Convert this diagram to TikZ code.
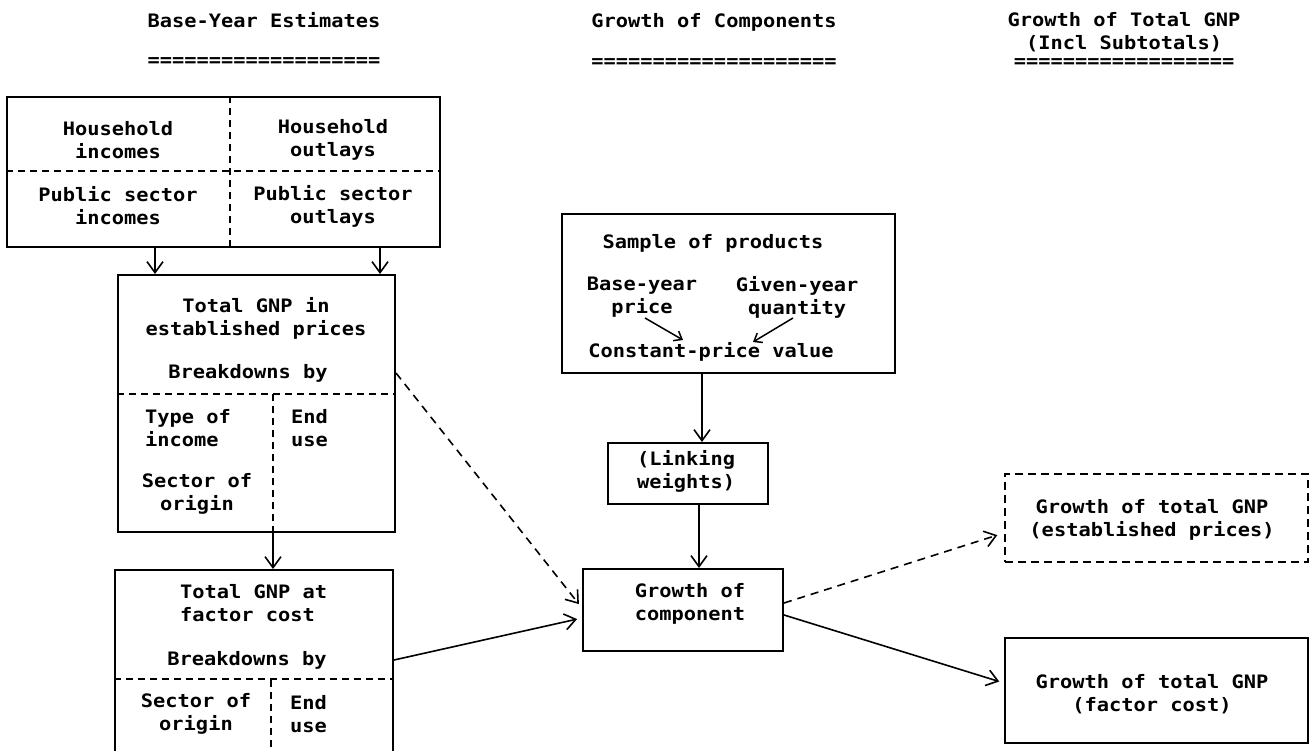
\documentclass[tikz,border=0pt]{standalone}
\usepackage{fontspec}
\setmonofont[FakeStretch=1.1]{DejaVu Sans Mono}
\usetikzlibrary{arrows.meta,calc}
\begin{document}
\begin{tikzpicture}[x=1pt,y=-1pt,
  box/.style={draw, line width=2pt, inner sep=0pt},
  dbox/.style={box, dash pattern=on 8pt off 5pt},
  sepline/.style={line width=1.5pt, dash pattern=on 7pt off 5pt},
  txt/.style={font=\ttfamily\bfseries\fontsize{18.5}{23}\selectfont, inner sep=0pt, align=center},
  arr/.style={line width=1.6pt, -{Straight Barb[length=11pt,width=16pt,line width=1.6pt]}},
  darr/.style={arr, dash pattern=on 8pt off 6pt},
  sarr/.style={line width=1.5pt, -{Straight Barb[length=7pt,width=11pt,line width=1.5pt]}},
]
\useasboundingbox (0,0) rectangle (1316,751);
\fill[white] (0,0) rectangle (1316,751);

% headers
\node[txt] (h1) at (264,20) {Base-Year Estimates};
\node[txt] (e1) at (264,62) {===================};
\node[txt] (h2) at (714,22) {Growth of Components};
\node[txt] (e2) at (714,63) {====================};
\node[txt] (h3) at (1124,32) {Growth of Total GNP\\(Incl Subtotals)};
\node[txt] (e3) at (1124,63) {==================};

% helper coordinates
\coordinate (x155) at (155,0);
\coordinate (x380) at (380,0);
\coordinate (x230) at (230,0);
\coordinate (x273) at (273,0);
\coordinate (x271) at (271,0);
\coordinate (x702) at (702,0);
\coordinate (x699) at (699,0);
\coordinate (y171) at (0,171);
\coordinate (y394) at (0,394);
\coordinate (y679) at (0,679);
\coordinate (y373) at (0,373);
\coordinate (y608) at (0,608);
\coordinate (y660) at (0,660);
\coordinate (y618) at (0,618);
\coordinate (y603) at (0,603);
\coordinate (y533) at (0,533);
\coordinate (y615) at (0,615);
\coordinate (y683) at (0,683);

% box 1
\node[box, minimum width=433pt, minimum height=150pt] (b1) at (223.5,172) {};
\draw[sepline] (b1.north -| x230) -- (b1.south -| x230);
\draw[sepline] (b1.west |- y171) -- (b1.east |- y171);
\node[txt] (t11) at (118,140) {Household\\incomes};
\node[txt] (t12) at (333,140) {Household\\outlays};
\node[txt] (t13) at (118,206) {Public sector\\incomes};
\node[txt] (t14) at (333,206) {Public sector\\outlays};

% box 2
\node[box, minimum width=277pt, minimum height=257pt] (b2) at (256.5,403.5) {};
\draw[sepline] (b2.west |- y394) -- (b2.east |- y394);
\draw[sepline] (b2.south -| x273) -- (x273 |- y394);
\node[txt] (t21) at (256,318) {Total GNP in\\established prices};
\node[txt] (t22) at (248,373) {Breakdowns by};
\node[txt, anchor=west, align=left] (t23) at (145,428) {Type of\\income};
\node[txt] (t24) at (197,494) {Sector of\\origin};
\node[txt, anchor=west, align=left] (t25) at (291,428) {End\\use};

% box 3
\node[box, minimum width=278pt, minimum height=188pt] (b3) at (254,664) {};
\draw[sepline] (b3.west |- y679) -- (b3.east |- y679);
\draw[sepline] (b3.south -| x271) -- (x271 |- y679);
\node[txt, anchor=west, align=left] (t31) at (180,603) {Total GNP at\\factor cost};
\node[txt] (t32) at (247,660) {Breakdowns by};
\node[txt] (t33) at (196,714) {Sector of\\origin};
\node[txt, anchor=west, align=left] (t34) at (290,714) {End\\use};

% sample box
\node[box, minimum width=333pt, minimum height=159pt] (sb) at (728.5,293.5) {};
\node[txt] (s1) at (713,243) {Sample of products};
\node[txt] (s2) at (642,297) {Base-year\\price};
\node[txt] (s3) at (797,297) {Given-year\\quantity};
\node[txt] (s4) at (711,352) {Constant-price value};
\coordinate (p1) at (645,318);
\coordinate (p2) at (683,340);
\coordinate (q1) at (793,318);
\coordinate (q2) at (753,342);
\draw[sarr] (p1) -- (p2);
\draw[sarr] (q1) -- (q2);

% linking box
\node[box, minimum width=160pt, minimum height=61pt] (lk) at (688,473.5) {};
\node[txt] (lkt) at (686,471) {(Linking\\weights)};

% growth of component
\node[box, minimum width=200pt, minimum height=82pt] (g) at (683,610) {};
\node[txt] (gt) at (690,604) {Growth of\\component};

% right boxes
\node[dbox, minimum width=303pt, minimum height=88pt] (r1) at (1156.5,518) {};
\node[txt] (r1t) at (1152,520) {Growth of total GNP\\(established prices)};
\node[box, minimum width=303pt, minimum height=105pt] (r2) at (1156.5,690.5) {};
\node[txt] (r2t) at (1152,694) {Growth of total GNP\\(factor cost)};

% connectors
\draw[arr] (b1.south -| x155) -- (b2.north -| x155);
\draw[arr] (b1.south -| x380) -- (b2.north -| x380);
\draw[arr] (b2.south -| x273) -- (b3.north -| x273);
\draw[arr] (sb.south -| x702) -- (lk.north -| x702);
\draw[arr] (lk.south -| x699) -- (g.north -| x699);
\draw[darr, shorten >=5pt] (b2.east |- y373) -- (g.west |- y608);
\draw[arr, shorten >=5pt] (b3.east |- y660) -- (g.west |- y618);
\draw[darr, shorten >=7pt] (g.east |- y603) -- (r1.west |- y533);
\draw[arr, shorten >=5pt] (g.east |- y615) -- (r2.west |- y683);
\end{tikzpicture}
\end{document}
